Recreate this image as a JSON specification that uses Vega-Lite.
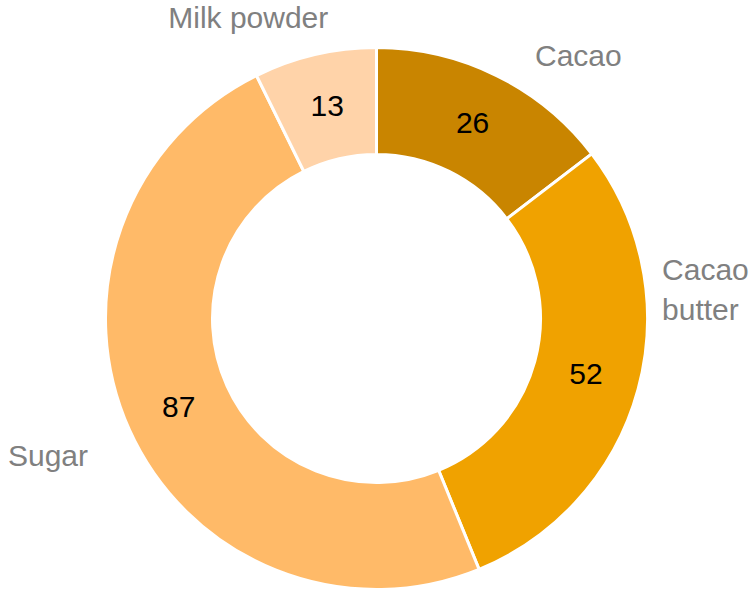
{
  "$schema": "https://vega.github.io/schema/vega-lite/v6.json",
  "width": 753,
  "height": 545,
  "autosize": {"type": "none"},
  "padding": {"top": 46, "left": 0, "right": 0, "bottom": 0},
  "background": "white",
  "config": {"view": {"stroke": null}, "text": {"font": "Liberation Sans"}},
  "data": {
    "values": [
      {"category": "Cacao", "value": 26, "idx": 1},
      {"category": "Cacao butter", "value": 52, "idx": 2},
      {"category": "Sugar", "value": 87, "idx": 3},
      {"category": "Milk powder", "value": 13, "idx": 4}
    ]
  },
  "encoding": {
    "theta": {"field": "value", "type": "quantitative", "stack": true},
    "order": {"field": "idx", "type": "quantitative"}
  },
  "layer": [
    {
      "mark": {"type": "arc", "outerRadius": 271, "innerRadius": 164, "stroke": "white", "strokeWidth": 3},
      "encoding": {
        "color": {
          "field": "category",
          "type": "nominal",
          "scale": {
            "domain": ["Cacao", "Cacao butter", "Sugar", "Milk powder"],
            "range": ["#C98500", "#F0A200", "#FFBA68", "#FFD3A9"]
          },
          "legend": null
        }
      }
    },
    {
      "mark": {"type": "text", "radius": 217, "fontSize": 30, "color": "black", "baseline": "middle", "align": "center"},
      "encoding": {"text": {"field": "value", "type": "quantitative"}}
    },
    {
      "mark": {"type": "text", "radius": 300, "fontSize": 30, "color": "#808080", "baseline": "middle", "align": "center", "dx": 69, "dy": 7},
      "encoding": {"text": {"condition": {"test": "datum.category === 'Cacao'", "field": "category", "type": "nominal"}, "value": ""}}
    },
    {
      "mark": {"type": "text", "radius": 300, "fontSize": 30, "color": "#808080", "baseline": "middle", "align": "left", "dx": -4, "dy": -126, "lineBreak": " ", "lineHeight": 40},
      "encoding": {"text": {"condition": {"test": "datum.category === 'Cacao butter'", "field": "category", "type": "nominal"}, "value": ""}}
    },
    {
      "mark": {"type": "text", "radius": 300, "fontSize": 30, "color": "#808080", "baseline": "middle", "align": "center", "dx": -55, "dy": 15},
      "encoding": {"text": {"condition": {"test": "datum.category === 'Sugar'", "field": "category", "type": "nominal"}, "value": ""}}
    },
    {
      "mark": {"type": "text", "radius": 300, "fontSize": 30, "color": "#808080", "baseline": "middle", "align": "center", "dx": -60, "dy": -7},
      "encoding": {"text": {"condition": {"test": "datum.category === 'Milk powder'", "field": "category", "type": "nominal"}, "value": ""}}
    }
  ]
}
